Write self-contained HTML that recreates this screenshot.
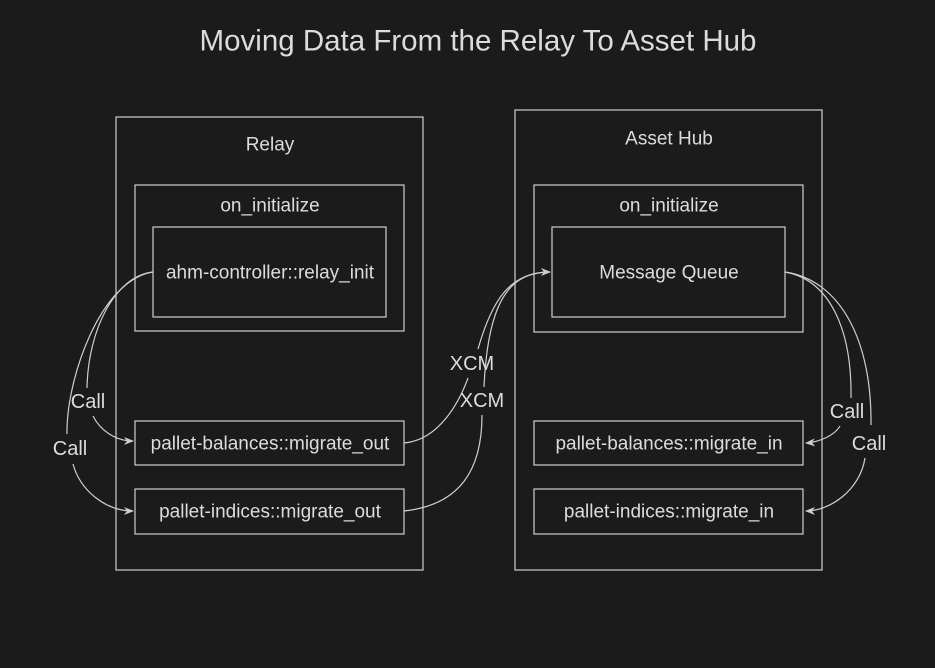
<!DOCTYPE html>
<html><head><meta charset="utf-8"><style>
html,body{margin:0;padding:0;background:#1b1b1b;}
svg{display:block}
text{font-family:"Liberation Sans",sans-serif;fill:#dcdcdc;text-anchor:middle;dominant-baseline:central}
</style></head><body>
<svg width="935" height="668" viewBox="0 0 935 668">
<defs><marker id="a" markerWidth="10" markerHeight="10" refX="9" refY="5" orient="auto" markerUnits="userSpaceOnUse"><path d="M0,1 L10,5 L0,9 L3,5 Z" fill="#cfcfcf"/></marker></defs>
<rect width="935" height="668" fill="#1b1b1b"/>
<text x="478" y="41" font-size="29.5">Moving Data From the Relay To Asset Hub</text>
<g fill="none" stroke="#cfcfcf" stroke-width="1.2">
<rect x="116" y="117" width="307" height="453"/>
<rect x="135" y="185" width="269" height="146"/>
<rect x="153" y="227" width="233" height="90"/>
<rect x="135" y="421" width="269" height="44"/>
<rect x="135" y="489" width="269" height="45"/>
<rect x="515" y="110" width="307" height="460"/>
<rect x="534" y="185" width="269" height="147"/>
<rect x="552" y="227" width="233" height="90"/>
<rect x="534" y="421" width="269" height="44"/>
<rect x="534" y="489" width="269" height="45"/>
<path d="M153,272 C115,276 88,330 87,388"/>
<path d="M93,416 C100,430 115,441 133,441" marker-end="url(#a)"/>
<path d="M153,272 C100,280 66,380 67,434"/>
<path d="M73,464 C80,490 105,511 133,511" marker-end="url(#a)"/>
<path d="M404,443 C440,440 460,400 468,378"/>
<path d="M478,349 C492,300 510,272 550,272" marker-end="url(#a)"/>
<path d="M404,511 C460,505 482,470 482,415"/>
<path d="M484,387 C488,300 510,272 550,272"/>
<path d="M785,272 C830,280 852,330 851,398"/>
<path d="M840,426 C835,435 820,442 806,443" marker-end="url(#a)"/>
<path d="M785,272 C840,280 872,340 871,425"/>
<path d="M865,458 C860,490 830,511 806,511" marker-end="url(#a)"/>
</g>
<g font-size="19">
<text x="270" y="145">Relay</text>
<text x="270" y="206">on_initialize</text>
<text x="270" y="273">ahm-controller::relay_init</text>
<text x="270" y="444">pallet-balances::migrate_out</text>
<text x="270" y="512">pallet-indices::migrate_out</text>
<text x="669" y="139">Asset Hub</text>
<text x="669" y="206">on_initialize</text>
<text x="669" y="273">Message Queue</text>
<text x="669" y="444">pallet-balances::migrate_in</text>
<text x="669" y="512">pallet-indices::migrate_in</text>
</g>
<g font-size="20">
<text x="88" y="402">Call</text>
<text x="70" y="449">Call</text>
<text x="472" y="364">XCM</text>
<text x="482" y="401">XCM</text>
<text x="847" y="412">Call</text>
<text x="869" y="444">Call</text>
</g>
</svg>
</body></html>
